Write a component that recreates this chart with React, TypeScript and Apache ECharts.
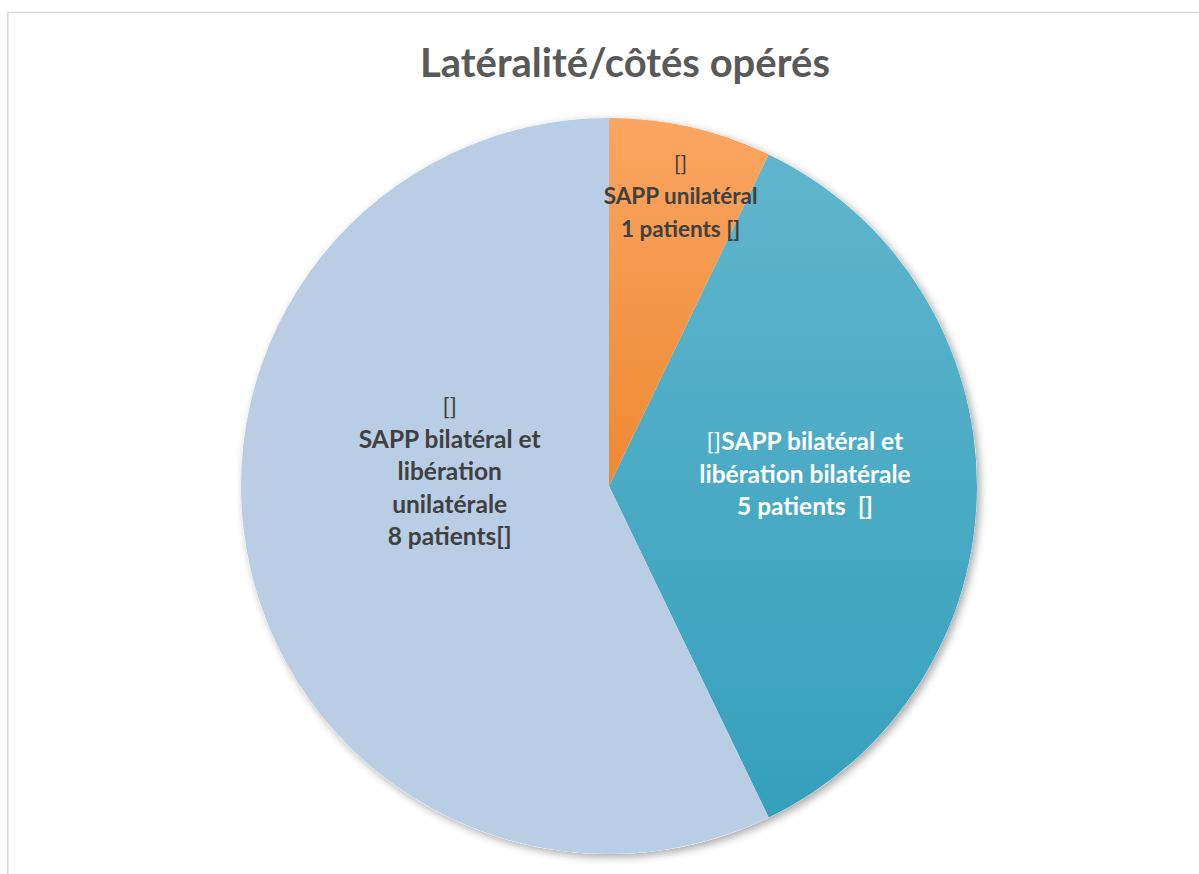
import React, { useEffect, useRef } from "react";
import * as echarts from "echarts";

const chartTitle = "Latéralité/côtés opérés";
const categories = [
  "SAPP unilatéral",
  "SAPP bilatéral et\nlibération bilatérale",
  "SAPP bilatéral et\nlibération\nunilatérale",
];
const values = [1, 5, 8];
const unit = "patients";
const prefixOnOwnLine = [true, false, true];
const suffixes = [" []", "  []", "[]"];

const gradTop = ["#faa562", "#60b5cd", "#b9cde5"];
const gradBottom = ["#ee8932", "#35a0bc", "#b9cde5"];
const textColors = ["#404040", "#ffffff", "#404040"];
const labelSizes = [22.5, 24.5, 24.5];
const labelShift = [
  [30, -108],
  [9, -13],
  [23, -57],
];

export default function App() {
  const ref = useRef<HTMLDivElement>(null);
  useEffect(() => {
    if (!ref.current) return;
    const chart = echarts.init(ref.current, null, { renderer: "svg" });
    const font = "Lato, 'Open Sans', sans-serif";
    const data = values.map((v, i) => ({
      name: categories[i],
      value: v,
      itemStyle: {
        color: new echarts.graphic.LinearGradient(0, 0, 0, 1, [
          { offset: 0, color: gradTop[i] },
          { offset: 1, color: gradBottom[i] },
        ]),
      },
      label: {
        rich: {
          n: { fontFamily: font, fontSize: labelSizes[i] - 1, fontWeight: "normal", color: textColors[i], lineHeight: 32.5 },
          b: { fontFamily: font, fontSize: labelSizes[i], fontWeight: "bold", color: textColors[i], lineHeight: 32.5 },
        },
      },
    }));
    chart.setOption({
      animation: false,
      backgroundColor: "#ffffff",
      graphic: [
        {
          type: "rect",
          shape: { x: 7.75, y: 12.5, width: 1400, height: 1200 },
          style: { fill: "none", stroke: "#d9d9d9", lineWidth: 1.5 },
          silent: true,
        },
        {
          type: "text",
          x: 625,
          y: 62,
          style: {
            text: chartTitle,
            fontFamily: font,
            fontSize: 40,
            fontWeight: "bold",
            fill: "#595959",
            align: "center",
            verticalAlign: "middle",
          },
          silent: true,
        },
      ],
      series: [
        {
          type: "pie",
          silent: true,
          center: [609, 486],
          radius: 368,
          startAngle: 90,
          label: { show: false },
          labelLine: { show: false },
          itemStyle: {
            color: "#ffffff",
            shadowBlur: 8,
            shadowOffsetX: 3,
            shadowOffsetY: 3,
            shadowColor: "rgba(0,0,0,0.35)",
          },
          data: [{ value: 1, name: "shadow" }],
        },
        {
          type: "pie",
          center: [609, 486],
          radius: 368,
          startAngle: 90,
          clockwise: true,
          itemStyle: { borderWidth: 0 },
          label: {
            show: true,
            position: "inside",
            overflow: "none",
            align: "center",
            formatter: (p: any) => {
              const i = p.dataIndex;
              const lines = String(p.name)
                .split("\n")
                .map((l: string) => `{b|${l}}`)
                .join("\n");
              const head = prefixOnOwnLine[i] ? `{n|[]}\n${lines}` : `{n|[]}${lines}`;
              return `${head}\n{b|${p.value} ${unit}${suffixes[i]}}`;
            },
          },
          labelLine: { show: false },
          labelLayout: (params: any) => ({
            dx: labelShift[params.dataIndex][0],
            dy: labelShift[params.dataIndex][1],
          }),
          data,
        },
      ],
    });
    return () => chart.dispose();
  }, []);
  return (
    <div
      ref={ref}
      style={{ position: "fixed", left: 0, top: 0, width: 1199, height: 874 }}
    />
  );
}
